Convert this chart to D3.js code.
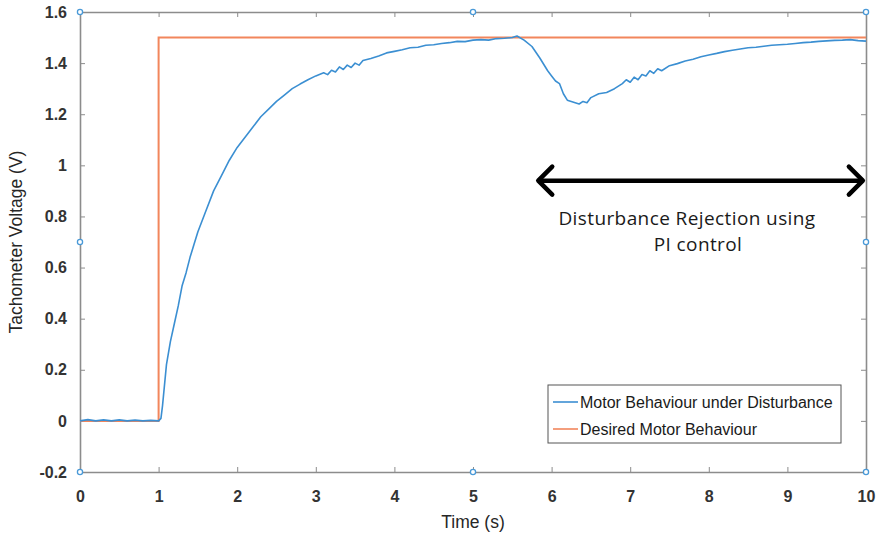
<!DOCTYPE html>
<html lang="en">
<head>
    <meta charset="UTF-8">
    <title>Tachometer</title>
    <script src="https://d3js.org/d3.v7.min.js"></script>
</head>
<body>
<svg id="chart"></svg>
</body>

<style>
    body { margin: 0; background: #fff; }

    .axis text {
        font-family: "Liberation Sans", Arial, sans-serif;
        font-size: 16px;
        font-weight: bold;
        fill: #333;
    }

    .axis path, .axis line {
        stroke: #8c8c8c;
    }

    .label {
        font-family: "Liberation Sans", Arial, sans-serif;
        font-size: 17.5px;
        fill: #262626;
    }

    .legend text {
        font-family: "Liberation Sans", Arial, sans-serif;
        font-size: 16px;
        fill: #1a1a1a;
    }

    .note {
        font-family: "Open Sans", sans-serif;
        font-size: 19px;
        letter-spacing: 0.4px;
        fill: #1a1a1a;
    }
</style>

<script>
    // tachometer reading
    const motorT = [0, 0.1, 0.2, 0.3, 0.4, 0.5, 0.6, 0.7, 0.8, 0.9, 1.0, 1.03,
        1.05, 1.1, 1.15, 1.2, 1.25, 1.3, 1.35, 1.4, 1.45, 1.5, 1.6, 1.7, 1.8, 1.9,
        2.0, 2.1, 2.2, 2.3, 2.4, 2.5, 2.6, 2.7, 2.8, 2.9,
        3.0, 3.1, 3.15, 3.2, 3.25, 3.3, 3.35, 3.4, 3.45, 3.5, 3.55, 3.6, 3.7, 3.8, 3.9,
        4.0, 4.1, 4.2, 4.3, 4.4, 4.5, 4.6, 4.7, 4.8, 4.9,
        5.0, 5.1, 5.2, 5.3, 5.4, 5.5, 5.56, 5.65, 5.75, 5.85, 5.95,
        6.0, 6.05, 6.1, 6.15, 6.2, 6.25, 6.3, 6.35, 6.4, 6.45, 6.5, 6.6, 6.7, 6.8, 6.9, 6.95,
        7.0, 7.05, 7.1, 7.15, 7.2, 7.25, 7.3, 7.35, 7.4, 7.5, 7.6, 7.7, 7.8, 7.9,
        8.0, 8.1, 8.2, 8.3, 8.4, 8.5, 8.6, 8.7, 8.8, 8.9,
        9.0, 9.1, 9.2, 9.3, 9.4, 9.5, 9.6, 9.7, 9.8, 9.9, 10.0];
    const motorV = [0, 0.005, 0, 0.004, 0, 0.004, 0, 0.003, 0, 0.002, 0, 0.01,
        0.06, 0.22, 0.31, 0.38, 0.45, 0.53, 0.58, 0.64, 0.69, 0.74, 0.82, 0.90, 0.96, 1.02,
        1.07, 1.11, 1.15, 1.19, 1.22, 1.25, 1.275, 1.30, 1.318, 1.335,
        1.350, 1.362, 1.355, 1.372, 1.365, 1.385, 1.375, 1.392, 1.383, 1.400, 1.392, 1.410, 1.418, 1.428, 1.440,
        1.446, 1.452, 1.460, 1.462, 1.470, 1.472, 1.477, 1.480, 1.485, 1.484,
        1.490, 1.492, 1.490, 1.496, 1.497, 1.500, 1.506, 1.490, 1.465, 1.420, 1.370,
        1.350, 1.330, 1.320, 1.280, 1.255, 1.250, 1.245, 1.240, 1.250, 1.245, 1.265, 1.280, 1.285, 1.300, 1.320, 1.335,
        1.325, 1.345, 1.335, 1.355, 1.350, 1.370, 1.360, 1.378, 1.370, 1.390, 1.398, 1.408, 1.415, 1.425,
        1.432, 1.438, 1.445, 1.450, 1.455, 1.460, 1.462, 1.466, 1.470, 1.472,
        1.474, 1.477, 1.480, 1.482, 1.485, 1.487, 1.489, 1.490, 1.492, 1.488, 1.486];

    // desired step
    const desiredT = [0, 1, 1, 10];
    const desiredV = [0, 0, 1.5, 1.5];

    const xTicks = [0, 1, 2, 3, 4, 5, 6, 7, 8, 9, 10];
    const yTicks = [-0.2, 0, 0.2, 0.4, 0.6, 0.8, 1, 1.2, 1.4, 1.6];
    const handleT = [0, 5, 10];
    const handleV = [-0.2, 0.7, 1.6];
    const arrowT = [5.83, 9.96];
    const arrowV = 0.94;
    const seriesNames = ['Motor Behaviour under Disturbance', 'Desired Motor Behaviour'];

    const width = 884, height = 540;
    const margin = {top: 12, right: 18, bottom: 68, left: 80};

    const svg = d3.select('#chart')
        .attr('width', width)
        .attr('height', height);

    const x = d3.scaleLinear().domain([0, 10]).range([margin.left, width - margin.right]);
    const y = d3.scaleLinear().domain([-0.2, 1.6]).range([height - margin.bottom, margin.top]);

    const tickFmt = d => d === 0 ? '0' : String(d);

    // box with inward ticks on all sides
    svg.append('g').attr('class', 'axis')
        .attr('transform', `translate(0,${y(-0.2)})`)
        .call(d3.axisBottom(x).tickValues(xTicks).tickSizeInner(-5).tickSizeOuter(0).tickPadding(19).tickFormat(tickFmt));
    svg.append('g').attr('class', 'axis')
        .attr('transform', `translate(0,${y(1.6)})`)
        .call(d3.axisTop(x).tickValues(xTicks).tickSizeInner(-5).tickSizeOuter(0).tickFormat(''));
    svg.append('g').attr('class', 'axis')
        .attr('transform', `translate(${x(0)},0)`)
        .call(d3.axisLeft(y).tickValues(yTicks).tickSizeInner(-5).tickSizeOuter(0).tickPadding(13).tickFormat(tickFmt));
    svg.append('g').attr('class', 'axis')
        .attr('transform', `translate(${x(10)},0)`)
        .call(d3.axisRight(y).tickValues(yTicks).tickSizeInner(-5).tickSizeOuter(0).tickFormat(''));

    svg.selectAll('.axis path').attr('stroke-width', 1.6);

    svg.append('text').attr('class', 'label')
        .attr('x', x(5)).attr('y', 528)
        .attr('text-anchor', 'middle')
        .text('Time (s)');

    svg.append('text').attr('class', 'label')
        .attr('transform', `translate(22,${y(0.7)}) rotate(-90)`)
        .attr('text-anchor', 'middle')
        .text('Tachometer Voltage (V)');

    const line = d3.line().x(d => x(d[0])).y(d => y(d[1]));

    svg.append('path')
        .datum(desiredT.map((t, i) => [t, desiredV[i]]))
        .attr('fill', 'none')
        .attr('stroke', '#f2865c')
        .attr('stroke-width', 2)
        .attr('d', line);

    svg.append('path')
        .datum(motorT.map((t, i) => [t, motorV[i]]))
        .attr('fill', 'none')
        .attr('stroke', '#3b8fd2')
        .attr('stroke-width', 1.6)
        .attr('stroke-linejoin', 'round')
        .attr('d', line);

    // selection handles
    const handles = [];
    handleT.forEach(t => handleV.forEach(v => {
        if (t !== 5 || v !== 0.7) handles.push([t, v]);
    }));
    svg.append('g').selectAll('circle')
        .data(handles)
        .join('circle')
        .attr('cx', d => x(d[0]))
        .attr('cy', d => y(d[1]))
        .attr('r', 2.6)
        .attr('fill', '#fff')
        .attr('stroke', '#4a9ad8')
        .attr('stroke-width', 1.3);

    // legend
    const legend = svg.append('g').attr('class', 'legend');
    legend.append('rect')
        .attr('x', 548).attr('y', 385)
        .attr('width', 293).attr('height', 58)
        .attr('fill', '#fff')
        .attr('stroke', '#555')
        .attr('stroke-width', 1);
    const legColors = ['#3b8fd2', '#f2865c'];
    seriesNames.forEach((name, i) => {
        const yy = 402 + i * 27;
        legend.append('line')
            .attr('x1', 553).attr('x2', 578)
            .attr('y1', yy).attr('y2', yy)
            .attr('stroke', legColors[i])
            .attr('stroke-width', 1.6);
        legend.append('text')
            .attr('x', 580).attr('y', yy + 6)
            .text(name);
    });

    // double arrow annotation
    const ay = y(arrowV);
    const ax0 = x(arrowT[0]), ax1 = x(arrowT[1]);
    const arrow = svg.append('g')
        .attr('fill', 'none')
        .attr('stroke', '#000')
        .attr('stroke-width', 4.5)
        .attr('stroke-linecap', 'round')
        .attr('stroke-linejoin', 'round');
    arrow.append('line').attr('x1', ax0 + 2).attr('x2', ax1 - 2).attr('y1', ay).attr('y2', ay);
    arrow.append('path').attr('d', `M${ax0 + 14},${ay - 14} L${ax0},${ay} L${ax0 + 14},${ay + 14}`);
    arrow.append('path').attr('d', `M${ax1 - 14},${ay - 14} L${ax1},${ay} L${ax1 - 14},${ay + 14}`);

    svg.append('text').attr('class', 'note')
        .attr('x', 687).attr('y', 225)
        .attr('text-anchor', 'middle')
        .text('Disturbance Rejection using');
    svg.append('text').attr('class', 'note')
        .attr('x', 698).attr('y', 251)
        .attr('text-anchor', 'middle')
        .text('PI control');
</script>
</html>
